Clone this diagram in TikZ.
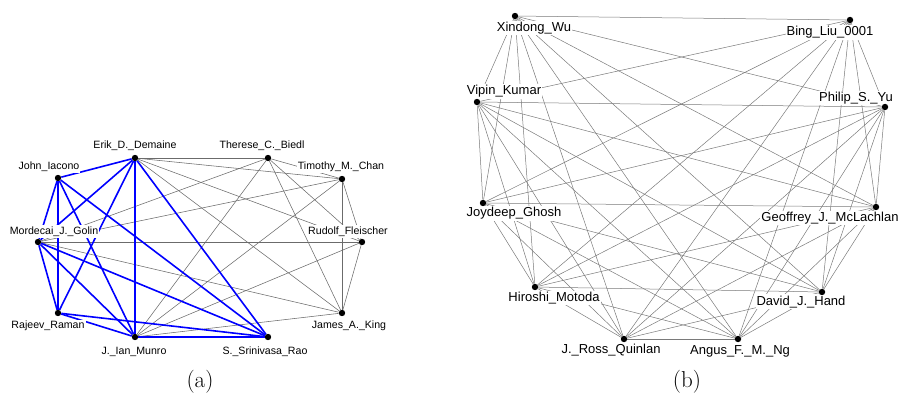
\documentclass[tikz,border=0pt]{standalone}
\usepackage{fontspec}
\newfontfamily\lblfont{Liberation Sans}
\pgfdeclarelayer{edges}
\pgfdeclarelayer{labels}
\pgfsetlayers{edges,labels,main}
\tikzset{
  vtx/.style={circle,fill=black,inner sep=0pt,minimum size=6.4pt},
  lblA/.style={font=\lblfont\fontsize{10.6}{12}\selectfont,fill=white,inner sep=1pt,
               text height=7.9pt,text depth=2.3pt},
  lblB/.style={font=\lblfont\fontsize{13}{15}\selectfont,fill=white,inner sep=1pt,
               text height=9.8pt,text depth=2.9pt},
  gedge/.style={draw=black!58,line width=0.55pt},
  bedge/.style={draw=blue,line width=1.6pt},
  kedge/.style={draw=black!52,line width=0.5pt},
  capt/.style={font=\fontsize{23}{27}\selectfont}
}
\begin{document}
\begin{tikzpicture}[x=1pt,y=-1pt]
\useasboundingbox (0,0) rectangle (901,398);

% ---------- (a) vertices ----------
\node[vtx] (erik) at (135,158) {};
\node[vtx] (john) at (58,178) {};
\node[vtx] (golin) at (38,242) {};
\node[vtx] (raman) at (58,313) {};
\node[vtx] (munro) at (135,337) {};
\node[vtx] (rao) at (268,337) {};
\node[vtx] (king) at (342,313) {};
\node[vtx] (fleischer) at (362,242) {};
\node[vtx] (chan) at (342,179) {};
\node[vtx] (biedl) at (268,158) {};

% ---------- (b) vertices ----------
\node[vtx] (wu) at (515,16) {};
\node[vtx] (liu) at (850,20) {};
\node[vtx] (kumar) at (477,102) {};
\node[vtx] (yu) at (885,107) {};
\node[vtx] (ghosh) at (483,203) {};
\node[vtx] (mclachlan) at (876,207) {};
\node[vtx] (motoda) at (535,287) {};
\node[vtx] (hand) at (822,292) {};
\node[vtx] (quinlan) at (624,339) {};
\node[vtx] (ng) at (738,339) {};

\begin{pgfonlayer}{edges}
% grey clique of (a)
\foreach \u/\v in {biedl/chan,biedl/erik,biedl/fleischer,biedl/golin,biedl/king,biedl/munro,
                   chan/erik,chan/fleischer,chan/golin,chan/king,chan/munro,
                   erik/fleischer,erik/king,
                   fleischer/golin,fleischer/king,fleischer/munro,
                   golin/king,king/munro}
  \draw[gedge] (\u) -- (\v);
% blue clique of (a)
\foreach \u/\v in {erik/john,erik/golin,erik/raman,erik/munro,erik/rao,
                   john/golin,john/raman,john/munro,john/rao,
                   golin/raman,golin/munro,golin/rao,
                   raman/munro,raman/rao,munro/rao}
  \draw[bedge] (\u) -- (\v);
% complete graph of (b)
\foreach \u [count=\i] in {wu,liu,kumar,yu,ghosh,mclachlan,motoda,hand,quinlan,ng}
  \foreach \v [count=\j] in {wu,liu,kumar,yu,ghosh,mclachlan,motoda,hand,quinlan,ng}
    {\ifnum\j>\i \draw[kedge] (\u) -- (\v); \fi}
\end{pgfonlayer}

\begin{pgfonlayer}{labels}
\node[lblA] (l-erik) at (135,146) {Erik\_D.\_Demaine};
\node[lblA] (l-john) at (49,166.5) {John\_Iacono};
\node[lblA] (l-golin) at (54,231.5) {Mordecai\_J.\_Golin};
\node[lblA] (l-raman) at (48,326) {Rajeev\_Raman};
\node[lblA] (l-munro) at (134,352) {J.\_Ian\_Munro};
\node[lblA] (l-rao) at (265,352) {S.\_Srinivasa\_Rao};
\node[lblA] (l-king) at (349,326) {James\_A.\_King};
\node[lblA] (l-fleischer) at (348,231.5) {Rudolf\_Fleischer};
\node[lblA] (l-chan) at (341,166.5) {Timothy\_M.\_Chan};
\node[lblA] (l-biedl) at (262,146) {Therese\_C.\_Biedl};

\node[lblB] (l-wu) at (534,28) {Xindong\_Wu};
\node[lblB] (l-liu) at (830,32.3) {Bing\_Liu\_0001};
\node[lblB] (l-kumar) at (504,91.5) {Vipin\_Kumar};
\node[lblB] (l-yu) at (856,98) {Philip\_S.\_Yu};
\node[lblB] (l-ghosh) at (514,213.5) {Joydeep\_Ghosh};
\node[lblB] (l-mclachlan) at (830,218) {Geoffrey\_J.\_McLachlan};
\node[lblB] (l-motoda) at (554,298) {Hiroshi\_Motoda};
\node[lblB] (l-hand) at (801,301.7) {David\_J.\_Hand};
\node[lblB] (l-quinlan) at (611,350) {J.\_Ross\_Quinlan};
\node[lblB] (l-ng) at (740,351) {Angus\_F.\_M.\_Ng};
\end{pgfonlayer}

% panel captions
\node[capt] (cap-a) at (200,382) {(a)};
\node[capt] (cap-b) at (687,382) {(b)};
\end{tikzpicture}
\end{document}
